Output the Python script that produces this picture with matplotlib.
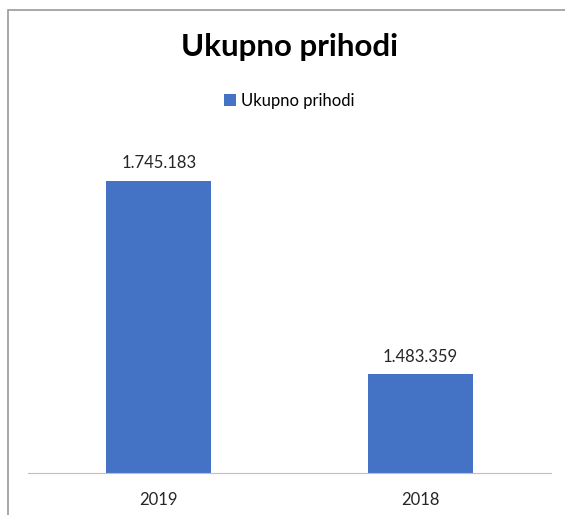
import matplotlib.pyplot as plt
from matplotlib.patches import Rectangle

years = ["2019", "2018"]
values = [1745183, 1483359]
title = "Ukupno prihodi"
series_name = "Ukupno prihodi"

plt.rcParams['font.family'] = ['Lato', 'DejaVu Sans']

W, H = 565, 515
fig = plt.figure(figsize=(W / 100, H / 100), dpi=100)

# chart border, cut off at the right and bottom like the screenshot
fig.patches.append(Rectangle((8 / W, -0.1), 1.2, (H - 10) / H + 0.1,
                             transform=fig.transFigure, fill=False,
                             edgecolor="#9a9a9a", linewidth=1.2))

ax = fig.add_axes([28 / W, (H - 473) / H, (551 - 28) / W, (473 - 140) / H])
x = range(len(years))
bars = ax.bar(x, values, width=0.4, color="#4472c4", label=series_name, zorder=2)
ax.set_xlim(-0.5, 1.5)
ax.set_ylim(1350000, 1800000)

for b, v in zip(bars, values):
    lbl = f"{v:,}".replace(",", ".")
    ax.annotate(lbl, (b.get_x() + b.get_width() / 2, v), xytext=(0, 7),
                textcoords="offset points", ha="center", va="bottom",
                fontsize=12, color="#262626")

ax.set_xticks(list(x))
ax.set_xticklabels(years, fontsize=12, color="#262626")
ax.tick_params(axis="x", length=0, pad=14)
ax.set_yticks([])
for s in ["top", "left", "right"]:
    ax.spines[s].set_visible(False)
ax.spines["bottom"].set_color("#bfbfbf")

fig.text(0.5 * (28 + 551) / W, 1 - 47 / H, title, ha="center", va="center",
         fontsize=22.5, fontweight="bold", color="black")
fig.legend(loc="center", bbox_to_anchor=(0.5 * (28 + 551) / W, 1 - 101 / H),
           frameon=False, fontsize=12, handlelength=0.7, handleheight=0.7,
           handletextpad=0.3)

fig.savefig("out.png", dpi=100)
